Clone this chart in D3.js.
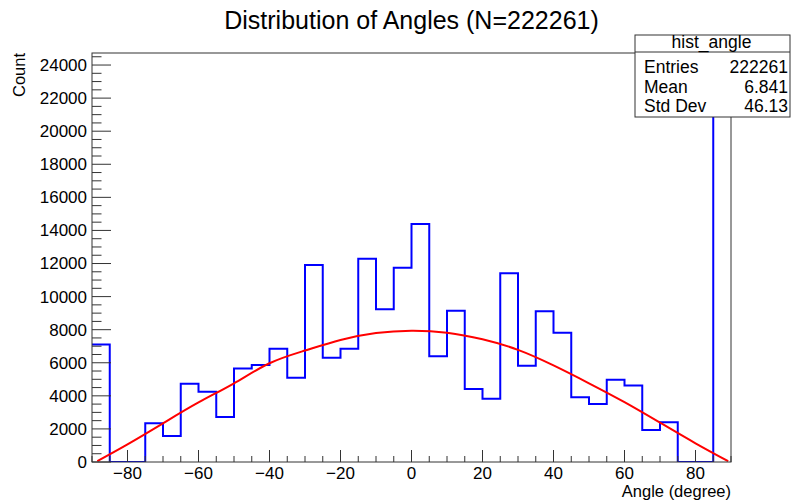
<!DOCTYPE html>
<html>
<head>
<meta charset="utf-8">
<script src="https://cdn.jsdelivr.net/npm/d3@7"></script>
<style>
  html, body { margin: 0; padding: 0; background: #fff; }
  svg { display: block; }
  text { font-family: "Liberation Sans", Arial, Helvetica, sans-serif; fill: #000; }
</style>
</head>
<body>
<svg id="chart" width="791" height="504"></svg>
<script>
// ---- data ----
const binLowEdges = [-90,-85,-80,-75,-70,-65,-60,-55,-50,-45,-40,-35,-30,-25,-20,-15,-10,-5,
                     0,5,10,15,20,25,30,35,40,45,50,55,60,65,70,75,80,85];
const binWidth = 5;
const counts = [7100,0,0,2340,1570,4730,4250,2720,5660,5860,6850,5100,11910,6310,6850,12290,9230,11750,
                14390,6390,9150,4410,3830,11410,5820,9110,7820,3910,3510,4980,4630,1930,2400,0,0,23550];
const fitX = [-88.5,-80,-70,-60,-50,-40,-30,-20,-10,0,10,20,30,40,50,60,70,80,89.2];
const fitY = [60,1070,2340,3600,4760,5970,6740,7380,7800,7940,7820,7420,6780,5840,4760,3620,2380,1130,50];
const xMajorTicks = [-80,-60,-40,-20,0,20,40,60,80];
const yMajorTicks = [0,2000,4000,6000,8000,10000,12000,14000,16000,18000,20000,22000,24000];
const titleText = "Distribution of Angles (N=222261)";
const xTitle = "Angle (degree)";
const yTitle = "Count";
const statsName = "hist_angle";
const statsLabels = ["Entries","Mean","Std Dev"];
const statsValues = ["222261","6.841","46.13"];

// ---- layout ----
const svg = d3.select("#chart");
const L = 92, R = 731, T = 53, B = 462;
const xMin = -90, xMax = 90;
const yMax = d3.max(counts) * 1.05;
const x = d3.scaleLinear().domain([xMin, xMax]).range([L, R]);
const y = d3.scaleLinear().domain([0, yMax]).range([B, T]);

svg.append("rect").attr("width",791).attr("height",504).attr("fill","#fff");

svg.append("defs").append("clipPath").attr("id","frameClip")
  .append("rect").attr("x",L).attr("y",T).attr("width",R-L).attr("height",B-T);

// histogram outline (ROOT style)
const pts = [];
counts.forEach((c,i) => {
  pts.push([binLowEdges[i], c]);
  pts.push([binLowEdges[i] + binWidth, c]);
});
const histLine = d3.line().x(d => x(d[0])).y(d => y(d[1]));
svg.append("path")
  .attr("d", histLine(pts))
  .attr("fill","none").attr("stroke","#0000ff").attr("stroke-width",2)
  .attr("clip-path","url(#frameClip)");

// fit curve
const fitLine = d3.line().x(d => x(d[0])).y(d => y(d[1])).curve(d3.curveNatural);
svg.append("path")
  .attr("d", fitLine(fitX.map((v,i)=>[v,fitY[i]])))
  .attr("fill","none").attr("stroke","#ff0000").attr("stroke-width",2)
  .attr("clip-path","url(#frameClip)");

// axes: ticks inside frame
const axisColor = "#333";
const xMinor = d3.range(xMin, xMax + 0.001, 5);
const gx = svg.append("g");
xMinor.forEach(v => {
  const isMajor = xMajorTicks.includes(v);
  gx.append("line").attr("x1",x(v)).attr("x2",x(v))
    .attr("y1",B).attr("y2",B - (isMajor ? 12 : 6))
    .attr("stroke",axisColor).attr("stroke-width",1);
});
const fmtX = d3.format("d");
xMajorTicks.forEach(v => {
  gx.append("text").attr("x",x(v)).attr("y",479)
    .attr("text-anchor","middle").style("font-size","17px").text(fmtX(v));
});
const yMinor = d3.range(0, yMax, 500);
const gy = svg.append("g");
yMinor.forEach(v => {
  const isMajor = yMajorTicks.includes(v);
  gy.append("line").attr("x1",L).attr("x2",L + (isMajor ? 19 : 9.5))
    .attr("y1",y(v)).attr("y2",y(v))
    .attr("stroke",axisColor).attr("stroke-width",1);
});
yMajorTicks.forEach(v => {
  gy.append("text").attr("x",87).attr("y",y(v)).attr("dy","0.35em")
    .attr("text-anchor","end").style("font-size","17px").text(v);
});

// frame
svg.append("rect").attr("x",L).attr("y",T).attr("width",R-L).attr("height",B-T)
  .attr("fill","none").attr("stroke",axisColor).attr("stroke-width",1);

// titles
svg.append("text").attr("x",411.5).attr("y",29).attr("text-anchor","middle")
  .style("font-size","25px").text(titleText);
svg.append("text").attr("x",R).attr("y",497).attr("text-anchor","end")
  .style("font-size","16.5px").text(xTitle);
svg.append("text").attr("transform",`translate(25,${T}) rotate(-90)`)
  .attr("text-anchor","end").style("font-size","16.5px").text(yTitle);

// stats box
const bx = 635, by = 35, bw = 155, bh = 82;
svg.append("rect").attr("x",bx).attr("y",by).attr("width",bw).attr("height",bh)
  .attr("fill","#fff").attr("stroke",axisColor).attr("stroke-width",1);
svg.append("line").attr("x1",bx).attr("x2",bx+bw).attr("y1",52).attr("y2",52)
  .attr("stroke",axisColor).attr("stroke-width",1);
svg.append("text").attr("x",bx + bw/2 - 1).attr("y",48).attr("text-anchor","middle")
  .style("font-size","17.5px").text(statsName);
const rowY = [73, 93, 112];
statsLabels.forEach((lab,i) => {
  svg.append("text").attr("x",644).attr("y",rowY[i]).style("font-size","17.5px").text(lab);
  svg.append("text").attr("x",788).attr("y",rowY[i]).attr("text-anchor","end")
    .style("font-size","17.5px").text(statsValues[i]);
});
</script>
</body>
</html>
